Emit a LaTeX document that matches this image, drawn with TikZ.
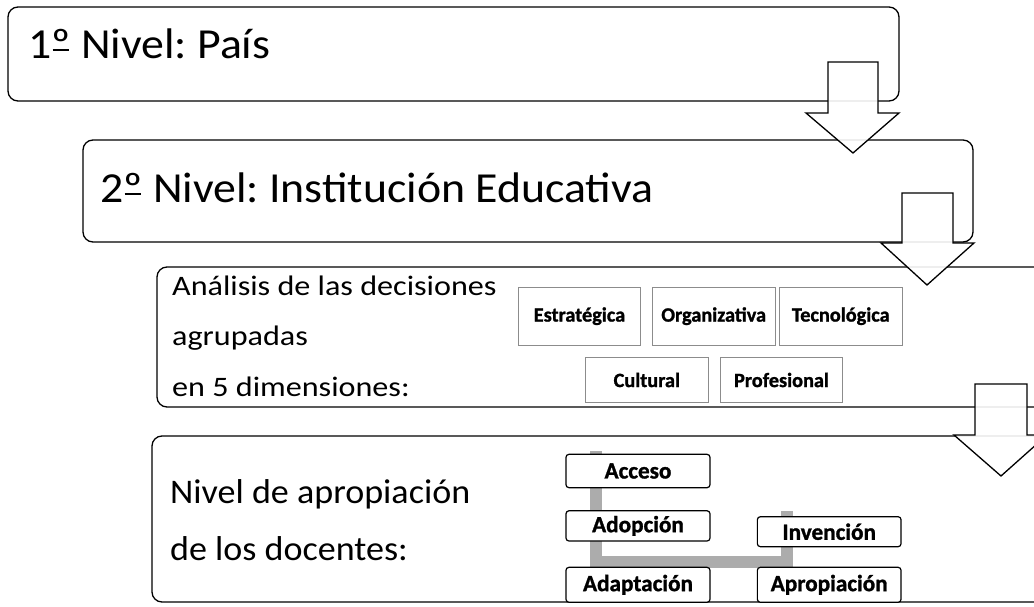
\documentclass[tikz,border=0pt]{standalone}
\usepackage{fontspec}
\setmainfont{Carlito}
\newfontfamily\bigfont[FakeStretch=1.07]{Carlito}
\newfontfamily\midfont[FakeStretch=1.14]{Carlito}
\newfontfamily\lowfont[FakeStretch=1.045]{Carlito}
\newfontfamily\heavyfont[BoldFeatures={FakeBold=1.2}]{Carlito}
\frenchspacing
\newcommand{\uord}{\setbox0\hbox{º}\rlap{\kern0.03em\rule[0.17em]{\dimexpr\wd0-0.06em\relax}{0.055em}}\box0}
\definecolor{connGray}{RGB}{172,172,172}
\definecolor{boxGray}{RGB}{140,140,140}
\begin{document}
\begin{tikzpicture}[x=1pt,y=-1pt,
  levelbox/.style={draw=black,line width=1.3pt,rounded corners=10pt,fill=white,inner sep=0pt},
  dimbox/.style={draw=boxGray,line width=1pt,fill=white,inner sep=0pt,font=\heavyfont\fontsize{20.3}{23}\selectfont\bfseries},
  stagebox/.style={draw=black,line width=1.2pt,rounded corners=3pt,fill=white,inner sep=0pt,font=\heavyfont\fontsize{23.2}{26}\selectfont\bfseries},
  bigarrow/.style={draw=black,line width=1.3pt,fill=white,fill opacity=0.9,line join=miter},
  conn/.style={draw=connGray,line width=12pt},
  bigtext/.style={anchor=base west,inner sep=0pt,font=\bigfont\fontsize{42.8}{48}\selectfont},
  midtext/.style={anchor=base west,inner sep=0pt,font=\midfont\fontsize{28.2}{32}\selectfont},
  lowtext/.style={anchor=base west,inner sep=0pt,font=\lowfont\fontsize{34.5}{38}\selectfont}]
\useasboundingbox (0,0) rectangle (1034,607);
\clip (0,0) rectangle (1034,607);
\fill[white] (0,0) rectangle (1034,607);

% Level 1
\node[levelbox,minimum width=891pt,minimum height=94pt] (n1) at (453.5,54) {};
\node[bigtext] (t1) at (28,58.5) {1\uord{} Nivel: País};
% Level 2
\node[levelbox,minimum width=890pt,minimum height=102pt] (n2) at (528,191) {};
\node[bigtext] (t2) at (100,202.5) {2\uord{} Nivel: Institución Educativa};
% Arrow 1
\draw[bigarrow] (828,62) -- (878,62) -- (878,113) -- (899,113) -- (853,153) -- (806,113) -- (828,113) -- cycle;

% Level 3
\node[levelbox,minimum width=900pt,minimum height=140pt] (n3) at (607,337) {};
\node[midtext] (t3a) at (172,295) {Análisis de las decisiones};
\node[midtext] (t3b) at (172,345.5) {agrupadas};
\node[midtext] (t3c) at (172,396) {en 5 dimensiones:};
\node[dimbox,minimum width=122.4pt,minimum height=57.7pt] (d1) at (579.5,316.2) {Estratégica};
\node[dimbox,minimum width=122.7pt,minimum height=57.7pt] (d2) at (713.7,316.2) {Organizativa};
\node[dimbox,minimum width=123pt,minimum height=57.7pt] (d3) at (840.8,316.2) {Tecnológica};
\node[dimbox,minimum width=123pt,minimum height=45.4pt] (d4) at (646.8,380) {Cultural};
\node[dimbox,minimum width=122.4pt,minimum height=45.4pt] (d5) at (781.5,380) {Profesional};
% Arrow 2
\draw[bigarrow] (902,193) -- (953,193) -- (953,243) -- (974,243) -- (927,285) -- (881,243) -- (902,243) -- cycle;

% Level 4
\node[levelbox,minimum width=900pt,minimum height=166pt] (n4) at (602,519) {};
\node[lowtext] (t4a) at (170,503.3) {Nivel de apropiación};
\node[lowtext] (t4b) at (170,560) {de los docentes:};
% connector
\coordinate (c1) at (596.3,451);
\coordinate (cm) at (690,561.7);
\coordinate (c2) at (787,511);
\draw[conn] (c1) -- (c1 |- cm) -- (c2 |- cm) -- (c2);
\node[stagebox,minimum width=144pt,minimum height=33.4pt] (s1) at (638,471) {Acceso};
\node[stagebox,minimum width=144pt,minimum height=30.3pt] (s2) at (638,525.9) {Adopción};
\node[stagebox,minimum width=143.7pt,minimum height=30pt] (s3) at (829.2,531.7) {Invención};
\node[stagebox,minimum width=144pt,minimum height=35pt] (s4) at (638,584.8) {Adaptación};
\node[stagebox,minimum width=143.7pt,minimum height=35pt] (s5) at (829.2,584.8) {Apropiación};
% Arrow 3
\draw[bigarrow] (975,384) -- (1027,384) -- (1027,435) -- (1047,435) -- (1001,476) -- (954,435) -- (975,435) -- cycle;
\end{tikzpicture}
\end{document}
